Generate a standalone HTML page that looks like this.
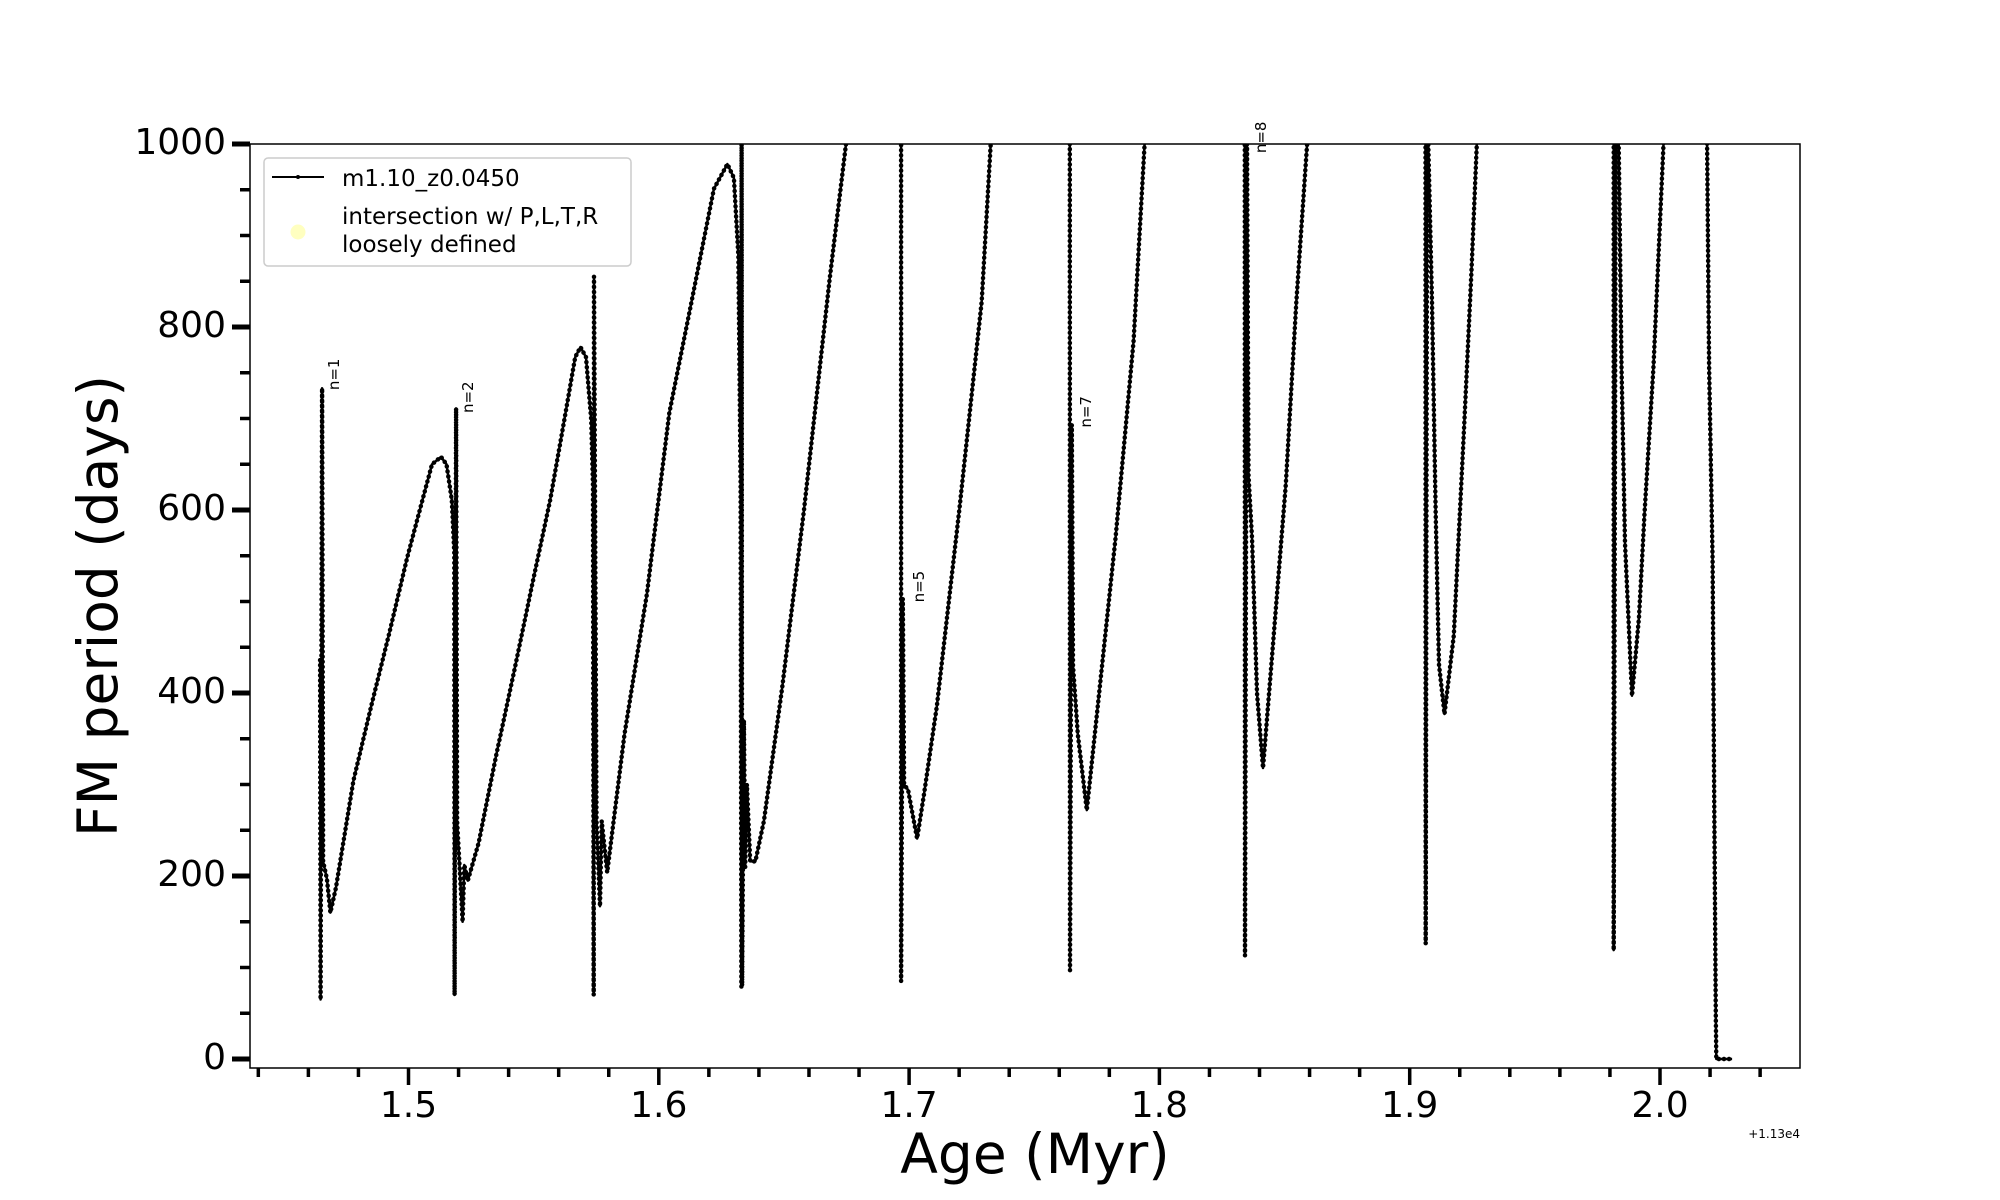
<!DOCTYPE html>
<html><head><meta charset="utf-8"><style>
html,body{margin:0;padding:0;background:#fff;}
svg{display:block;font-family:"DejaVu Sans","Liberation Sans",sans-serif;}
</style></head><body>
<svg id="chart" width="2000" height="1200" viewBox="0 0 2000 1200">
<defs><clipPath id="plotclip"><rect x="250" y="144" width="1550" height="924"/></clipPath></defs>
<rect x="0" y="0" width="2000" height="1200" fill="#fff"/>
<g id="ticks"></g>
<g id="series" clip-path="url(#plotclip)"></g>
<rect x="250" y="144" width="1550" height="924" fill="none" stroke="#000" stroke-width="1.5"/>
<g id="annots"></g>
<text x="1035" y="1158" font-size="55" text-anchor="middle" dominant-baseline="middle">Age (Myr)</text>
<text x="102" y="606" font-size="55" text-anchor="middle" dominant-baseline="middle" transform="rotate(-90 102 606)">FM period (days)</text>
<text x="1800" y="1138" font-size="12" text-anchor="end">+1.13e4</text>
<g>
<rect x="264" y="158" width="367" height="108" rx="4" fill="#fff" fill-opacity="0.8" stroke="#ccc" stroke-width="1.5"/>
<line x1="272" y1="177" x2="324" y2="177" stroke="#000" stroke-width="2"/>
<circle cx="298" cy="177" r="2" fill="#000"/>
<text x="342" y="186" font-size="23">m1.10_z0.0450</text>
<circle cx="298" cy="232" r="7.5" fill="#ffffc0"/>
<text x="342" y="224" font-size="23">intersection w/ P,L,T,R</text>
<text x="342" y="252" font-size="23">loosely defined</text>
</g>
</svg>
<script>
const ages = [1.4647,1.4649,1.4655,1.4659,1.4674,1.4688,1.4710,1.4780,1.4852,1.4923,1.4995,1.5052,1.5094,1.5130,1.5152,1.5173,1.5183,1.5184,1.5190,1.5194,1.5216,1.5223,1.5237,1.5280,1.5351,1.5423,1.5494,1.5566,1.5623,1.5666,1.5687,1.5709,1.5730,1.5737,1.5740,1.5741,1.5751,1.5765,1.5772,1.5794,1.5863,1.5953,1.6042,1.6131,1.6220,1.6274,1.6300,1.6318,1.6327,1.6330,1.6331,1.6333,1.6340,1.6345,1.6352,1.6365,1.6386,1.6420,1.6493,1.6580,1.6682,1.6748,1.6860,1.6968,1.6968,1.6975,1.6980,1.6996,1.7032,1.7060,1.7111,1.7201,1.7290,1.7326,1.7500,1.7642,1.7643,1.7650,1.7655,1.7674,1.7710,1.7754,1.7825,1.7897,1.7941,1.8100,1.8341,1.8342,1.8350,1.8356,1.8370,1.8390,1.8414,1.8447,1.8505,1.8547,1.8590,1.8800,1.9063,1.9064,1.9070,1.9089,1.9104,1.9117,1.9139,1.9176,1.9218,1.9247,1.9268,1.9500,1.9815,1.9815,1.9825,1.9835,1.9846,1.9860,1.9888,1.9916,1.9938,1.9974,2.0002,2.0014,2.0100,2.0188,2.0196,2.0210,2.0217,2.0223,2.0225,2.0288];
const periods = [436,65,733,216,197,160,187,304,387,465,548,607,650,658,650,611,553,70,711,260,150,212,195,236,333,425,518,611,699,767,778,767,699,626,70,855,260,167,260,204,355,509,706,828,951,978,963,877,631,79,1050,80,370,210,300,216,216,260,406,600,851,1000,1200,1050,85,503,300,294,241,290,386,601,828,1000,1200,1050,97,693,430,355,272,386,570,785,1000,1200,1050,113,1000,638,570,400,318,430,628,827,1000,1200,1050,126,1050,827,596,431,377,463,695,862,1000,1200,1050,119,1200,1000,757,564,397,483,596,757,927,1000,1200,1000,757,545,272,48,0,0];
const yTickVals = [0,200,400,600,800,1000];
const xTickVals = [1.5,1.6,1.7,1.8,1.9,2.0];
const xTickLabels = ["1.5","1.6","1.7","1.8","1.9","2.0"];
const annoLabels = ["n=1","n=2","n=5","n=7","n=8"];
const annoAges = [1.4722,1.5258,1.7059,1.7727,1.8426];
const annoPeriods = [731,706,499,690,990];

const NS="http://www.w3.org/2000/svg";
function X(a){return 408.5+(a-1.5)*2503;}
function Y(p){return 1059-p*0.915;}
function mk(tag,attrs,parent){const e=document.createElementNS(NS,tag);for(const k in attrs)e.setAttribute(k,attrs[k]);parent.appendChild(e);return e;}
const ticks=document.getElementById('ticks');
for(let i=0;i<=20;i++){
  const v=i*50;const major=v%200===0;
  const t=mk('line',{x1:major?232:240,x2:250,y1:Y(v),y2:Y(v),stroke:'#000','stroke-width':major?5:3.5},ticks);
  
  
}
yTickVals.forEach(v=>{
  const t=mk('text',{x:226,y:Y(v),'font-size':36,'text-anchor':'end','dominant-baseline':'middle'},ticks);
  t.textContent=String(v);
  
  
});
for(let i=0;i<=30;i++){
  const v=1.44+i*0.02;if(v>2.055)break;
  const major=Math.abs(Math.round(v*10)/10-v)<1e-6;
  const t=mk('line',{x1:X(v),x2:X(v),y1:1068,y2:major?1085:1077,stroke:'#000','stroke-width':3.5},ticks);
  
  
}
xTickVals.forEach((v,i)=>{
  const t=mk('text',{x:X(v),y:1107,'font-size':36,'text-anchor':'middle','dominant-baseline':'middle'},ticks);
  t.textContent=xTickLabels[i];
  
  
});
const series=document.getElementById('series');
const pts=ages.map((a,i)=>X(a).toFixed(1)+','+Y(periods[i]).toFixed(1)).join(' ');
const pl=mk('polyline',{points:pts,fill:'none',stroke:'#000','stroke-width':2.5,'stroke-linejoin':'round'},series);


const dots=mk('polyline',{points:pts,fill:'none',stroke:'#000','stroke-width':4.5,'stroke-linecap':'round','stroke-dasharray':'0.1 5','stroke-linejoin':'round'},series);


const annots=document.getElementById('annots');
annoLabels.forEach((s,i)=>{
  const x=X(annoAges[i]),y=Y(annoPeriods[i]);
  const t=mk('text',{x:x,y:y,'font-size':15,'text-anchor':'start',transform:'rotate(-90 '+x+' '+y+')'},annots);
  t.textContent=s;
  
  
});
</script>
</body></html>
